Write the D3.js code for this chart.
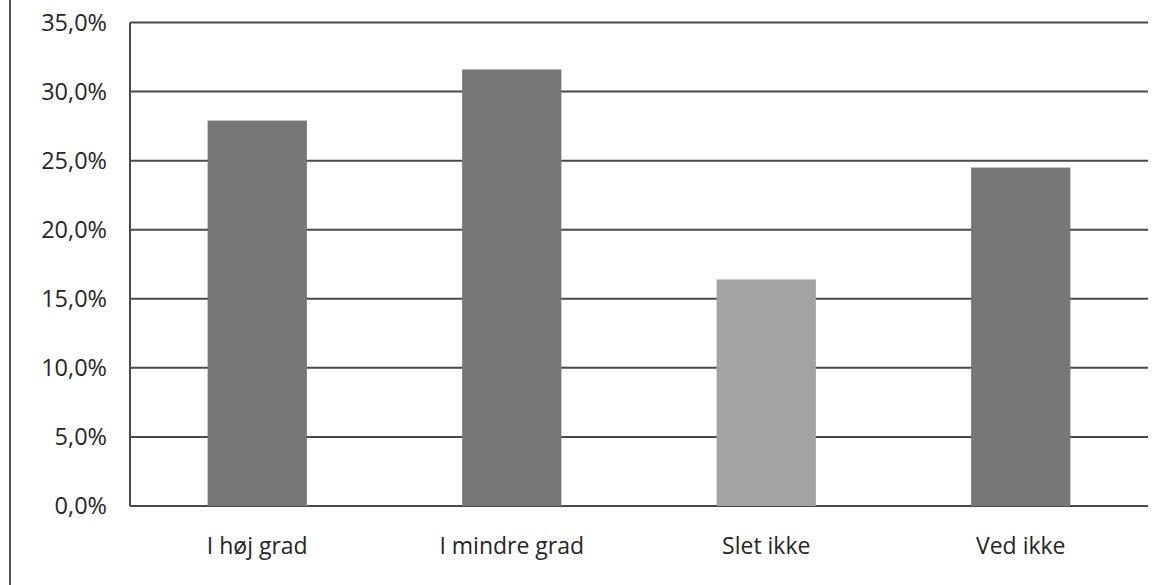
<!DOCTYPE html>
<html>
<head>
<meta charset="utf-8">
<script src="https://cdn.jsdelivr.net/npm/d3@7"></script>
<style>
  html, body { margin: 0; padding: 0; background: #fff; }
  svg { display: block; }
  text { font-family: "Open Sans", sans-serif; fill: #262626; }
</style>
</head>
<body>
<svg id="chart" width="1163" height="585"></svg>
<script>
const categories = ["I høj grad", "I mindre grad", "Slet ikke", "Ved ikke"];
const values = [27.9, 31.6, 16.4, 24.5];
const barColors = ["#777777", "#777777", "#a3a3a3", "#777777"];
const yTicks = [0, 5, 10, 15, 20, 25, 30, 35];

const svg = d3.select("#chart");
const margin = { left: 130, right: 15, top: 22.5, bottom: 79 };
const W = 1163, H = 585;

const x = d3.scaleBand()
  .domain(categories)
  .range([margin.left, W - margin.right])
  .paddingInner(0.61)
  .paddingOuter(0.305);

const y = d3.scaleLinear()
  .domain([0, 35])
  .range([H - margin.bottom, margin.top]);

const fmt = v => d3.format(".1f")(v).replace(".", ",") + "%";

// outer frame line on left
svg.append("line")
  .attr("x1", 10).attr("x2", 10)
  .attr("y1", 0).attr("y2", H)
  .attr("stroke", "#555").attr("stroke-width", 2);

// gridlines
svg.append("g")
  .selectAll("line")
  .data(yTicks)
  .join("line")
  .attr("x1", margin.left).attr("x2", W - margin.right)
  .attr("y1", d => y(d)).attr("y2", d => y(d))
  .attr("stroke", "#4a4a4a").attr("stroke-width", 2);

// left axis line
svg.append("line")
  .attr("x1", margin.left).attr("x2", margin.left)
  .attr("y1", y(35)).attr("y2", y(0))
  .attr("stroke", "#4a4a4a").attr("stroke-width", 2);

// y axis labels
const yAxis = d3.axisLeft(y).tickValues(yTicks).tickFormat(fmt).tickSize(0).tickPadding(23);
const gy = svg.append("g").attr("transform", `translate(${margin.left},0)`).call(yAxis);
gy.select(".domain").remove();
gy.selectAll("text").style("font-size", "23.5px").style("font-family", "'Open Sans', sans-serif").attr("fill", "#262626");

// bars
svg.append("g")
  .selectAll("rect")
  .data(values)
  .join("rect")
  .attr("x", (d, i) => x(categories[i]))
  .attr("width", x.bandwidth())
  .attr("y", d => y(d))
  .attr("height", d => y(0) - y(d))
  .attr("fill", (d, i) => barColors[i]);

// x axis labels
const xAxis = d3.axisBottom(x).tickSize(0).tickPadding(32);
const gx = svg.append("g").attr("transform", `translate(0,${y(0)})`).call(xAxis);
gx.select(".domain").remove();
gx.selectAll("text").style("font-size", "23px").style("font-family", "'Open Sans', sans-serif").attr("fill", "#262626");
</script>
</body>
</html>
